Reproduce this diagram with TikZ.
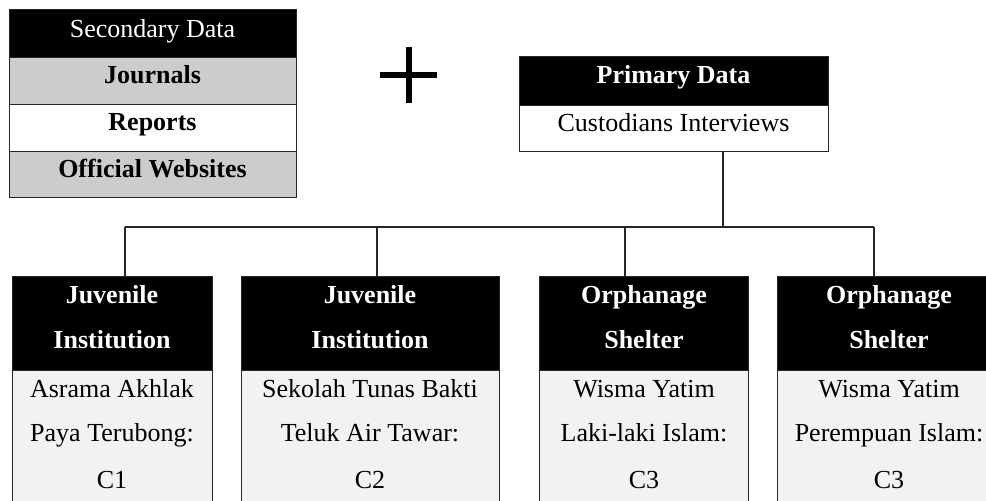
\documentclass[tikz,border=0pt]{standalone}
\usepackage{fontspec}
\setmainfont{Liberation Serif}
\definecolor{midg}{HTML}{CCCCCC}
\definecolor{lightg}{HTML}{F2F2F2}
\definecolor{linec}{HTML}{262626}
\begin{document}
\begin{tikzpicture}[x=1pt,y=-1pt,
  cell/.style={draw=linec, line width=1.4pt, inner sep=0pt, anchor=north west},
  txt/.style={anchor=base, inner sep=0pt, font=\fontsize{26}{30}\selectfont},
  wtxt/.style={txt, text=white},
  btxt/.style={txt, font=\fontsize{26}{30}\selectfont\bfseries},
  bwtxt/.style={btxt, text=white},
  conn/.style={draw=linec, line width=1.4pt},
  plusbar/.style={draw=black, line width=6.8pt}]
\useasboundingbox (0,0) rectangle (986,501);
\clip (0,0) rectangle (986,501);
\fill[white] (0,0) rectangle (986,501);

% Secondary data table
\node[cell, fill=black, minimum width=287pt, minimum height=48pt] (sd) at (9,9) {};
\node[cell, fill=midg,  minimum width=287pt, minimum height=47pt] (jo) at (9,57) {};
\node[cell, fill=white, minimum width=287pt, minimum height=47pt] (re) at (9,104) {};
\node[cell, fill=midg,  minimum width=287pt, minimum height=46pt] (ow) at (9,151) {};
\node[wtxt]  (sdt) at (152.5,37)  {Secondary Data};
\node[btxt]  (jot) at (152.5,83)  {Journals};
\node[btxt]  (ret) at (152.5,130) {Reports};
\node[btxt]  (owt) at (152.5,177) {Official Websites};

% Plus sign
\draw[plusbar] (380,75) -- (437,75);
\draw[plusbar] (409,47) -- (409,103);

% Primary data table
\node[cell, fill=black, minimum width=309pt, minimum height=49pt] (pd) at (519,56) {};
\node[cell, fill=white, minimum width=309pt, minimum height=46pt] (ci) at (519,105) {};
\node[bwtxt] (pdt) at (673.5,83)  {Primary Data};
\node[txt]   (cit) at (673.5,131) {Custodians Interviews};

% Bottom boxes
\node[cell, fill=black,  minimum width=200pt, minimum height=94pt]  (h1) at (12,276) {};
\node[cell, fill=lightg, minimum width=200pt, minimum height=150pt] (b1) at (12,370) {};
\node[cell, fill=black,  minimum width=258pt, minimum height=94pt]  (h2) at (241,276) {};
\node[cell, fill=lightg, minimum width=258pt, minimum height=150pt] (b2) at (241,370) {};
\node[cell, fill=black,  minimum width=209pt, minimum height=94pt]  (h3) at (539,276) {};
\node[cell, fill=lightg, minimum width=209pt, minimum height=150pt] (b3) at (539,370) {};
\node[cell, fill=black,  minimum width=224pt, minimum height=94pt]  (h4) at (777,276) {};
\node[cell, fill=lightg, minimum width=224pt, minimum height=150pt] (b4) at (777,370) {};

\node[bwtxt] (h1a) at (112,303) {Juvenile};
\node[bwtxt] (h1b) at (112,348) {Institution};
\node[txt]   (b1a) at (112,397) {Asrama Akhlak};
\node[txt]   (b1b) at (112,441) {Paya Terubong:};
\node[txt]   (b1c) at (112,488) {C1};

\node[bwtxt] (h2a) at (370,303) {Juvenile};
\node[bwtxt] (h2b) at (370,348) {Institution};
\node[txt]   (b2a) at (370,397) {Sekolah Tunas Bakti};
\node[txt]   (b2b) at (370,441) {Teluk Air Tawar:};
\node[txt]   (b2c) at (370,488) {C2};

\node[bwtxt] (h3a) at (644,303) {Orphanage};
\node[bwtxt] (h3b) at (644,348) {Shelter};
\node[txt]   (b3a) at (644,397) {Wisma Yatim};
\node[txt]   (b3b) at (644,441) {Laki-laki Islam:};
\node[txt]   (b3c) at (644,488) {C3};

\node[bwtxt] (h4a) at (889,303) {Orphanage};
\node[bwtxt] (h4b) at (889,348) {Shelter};
\node[txt]   (b4a) at (889,397) {Wisma Yatim};
\node[txt]   (b4b) at (889,441) {Perempuan Islam:};
\node[txt]   (b4c) at (889,488) {C3};

% Connectors
\coordinate (hub) at (723,227);
\coordinate (d1) at (125,227);
\coordinate (d2) at (377,227);
\coordinate (d3) at (625,227);
\coordinate (d4) at (874,227);
\draw[conn] (ci.south -| hub) -- (hub);
\draw[conn] (d1) -- (d4);
\draw[conn] (d1) -- (d1 |- h1.north);
\draw[conn] (d2) -- (d2 |- h2.north);
\draw[conn] (d3) -- (d3 |- h3.north);
\draw[conn] (d4) -- (d4 |- h4.north);
\end{tikzpicture}
\end{document}
